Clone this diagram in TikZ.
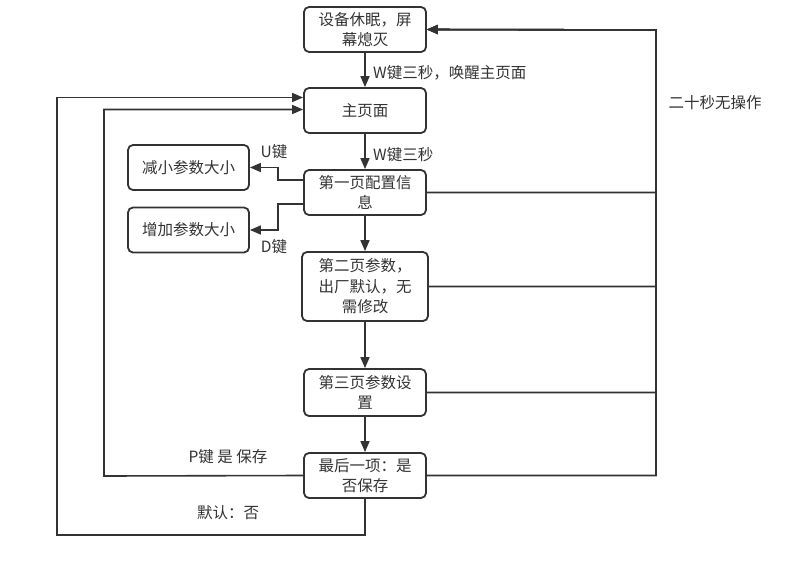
\documentclass[tikz,border=0pt]{standalone}
\usepackage{fontspec}
\setmainfont{Noto Sans CJK SC}
\usetikzlibrary{arrows.meta}
\definecolor{ink}{HTML}{333333}
\begin{document}
\begin{tikzpicture}[x=1pt,y=-1pt,
  box/.style={draw=ink,line width=1.8pt,rounded corners=5pt,minimum width=122pt,minimum height=45pt,align=center,text=ink,font=\fontsize{15.5}{20.5}\selectfont,inner sep=2pt},
  lbl/.style={text=ink,font=\fontsize{15.5}{20.5}\selectfont,inner sep=0pt},
  arr/.style={draw=ink,line width=1.6pt,-{Triangle[length=11pt,width=9pt]}},
  ln/.style={draw=ink,line width=1.6pt}]
\useasboundingbox (0,0) rectangle (800,570);
\node[box] (b1) at (365,29.5) {设备休眠，屏\\幕熄灭};
\node[box] (b2) at (365,110.5) {主页面};
\node[box] (b3) at (365,192.5) {第一页配置信\\息};
\node[box,minimum width=126pt,minimum height=69pt] (b4) at (365,286.5) {第二页参数，\\出厂默认，无\\需修改};
\node[box,minimum height=47pt] (b5) at (365,392.5) {第三页参数设\\置};
\node[box] (b6) at (365,475.5) {最后一项：是\\否保存};
\node[box,minimum width=121pt] (b7) at (188.5,167.5) {减小参数大小};
\node[box,minimum width=121pt] (b8) at (188.5,230) {增加参数大小};

\coordinate (rt) at (656,30);
\coordinate (u1) at (278,180);
\coordinate (d1) at (278,204);
\coordinate (o1) at (57,535);
\coordinate (i1) at (104,476);

\draw[arr] (b1) -- (b2);
\draw[arr] (b2) -- (b3);
\draw[arr] (b3) -- (b4);
\draw[arr] (b4) -- (b5);
\draw[arr] (b5) -- (b6);

\draw[arr] (b3.east) -| (rt) -- (b1.east);
\draw[arr] (b4.east) -| (rt) -- (b1.east);
\draw[arr] (b5.east) -| (rt) -- (b1.east);
\draw[arr] (b6.east) -| (rt) -- (b1.east);

\draw[arr] ([yshift=12.5pt]b3.west) -- (u1) |- (b7.east);
\draw[arr] ([yshift=-11.5pt]b3.west) -- (d1) |- (b8.east);

\draw[arr] (b6.south) |- (o1) |- ([yshift=13pt]b2.west);
\draw[arr] (b6.west) -- (i1) |- ([yshift=1pt]b2.west);

\node[lbl,anchor=west] (l1) at (373,73) {W键三秒，唤醒主页面};
\node[lbl,anchor=west] (l2) at (373,155) {W键三秒};
\node[lbl] (l3) at (274,152) {U键};
\node[lbl] (l4) at (274,247) {D键};
\node[lbl] (l5) at (228,457) {P键 是 保存};
\node[lbl] (l6) at (228,513) {默认：否};
\node[lbl] (l7) at (715,103) {二十秒无操作};
\end{tikzpicture}
\end{document}
